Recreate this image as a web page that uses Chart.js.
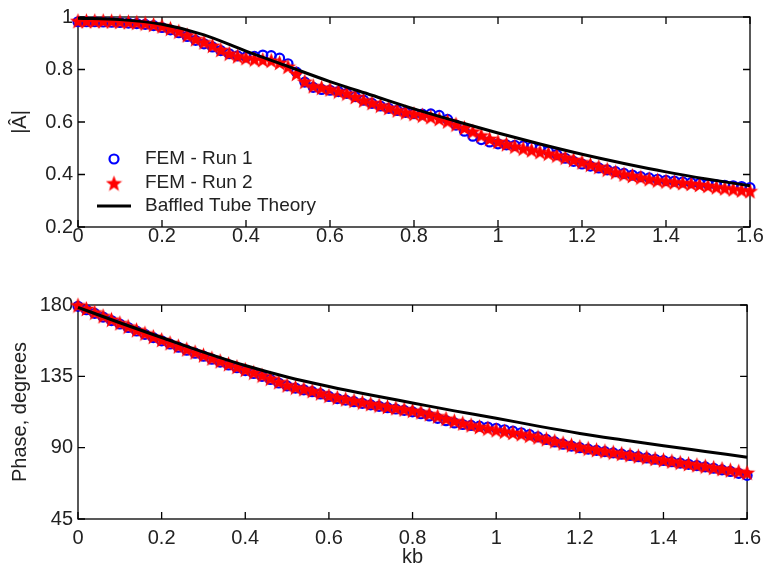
<!DOCTYPE html>
<html>
<head>
<meta charset="utf-8">
<script src="https://cdn.jsdelivr.net/npm/chart.js@4"></script>
<style>
  html, body { margin: 0; padding: 0; background: #fff; }
  #wrap { position: relative; width: 768px; height: 569px; }
  #ampChart { position: absolute; left: 0; top: 0; }
  #phaseChart { position: absolute; left: 0; top: 260px; }
</style>
</head>
<body>
<div id="wrap">
  <canvas id="ampChart" width="768" height="260"></canvas>
  <canvas id="phaseChart" width="768" height="309"></canvas>
</div>
<script>
// kb grid of the FEM runs
const kb = [
  0.00, 0.02, 0.04, 0.06, 0.08, 0.10, 0.12, 0.14, 0.16, 0.18,
  0.20, 0.22, 0.24, 0.26, 0.28, 0.30, 0.32, 0.34, 0.36, 0.38,
  0.40, 0.42, 0.44, 0.46, 0.48, 0.50, 0.52, 0.54, 0.56, 0.58,
  0.60, 0.62, 0.64, 0.66, 0.68, 0.70, 0.72, 0.74, 0.76, 0.78,
  0.80, 0.82, 0.84, 0.86, 0.88, 0.90, 0.92, 0.94, 0.96, 0.98,
  1.00, 1.02, 1.04, 1.06, 1.08, 1.10, 1.12, 1.14, 1.16, 1.18,
  1.20, 1.22, 1.24, 1.26, 1.28, 1.30, 1.32, 1.34, 1.36, 1.38,
  1.40, 1.42, 1.44, 1.46, 1.48, 1.50, 1.52, 1.54, 1.56, 1.58,
  1.60
];

// |A| - FEM run 1 (blue circles)
const ampRun1 = [
  0.982, 0.982, 0.982, 0.981, 0.980, 0.979, 0.977, 0.975, 0.972, 0.967,
  0.960, 0.951, 0.940, 0.926, 0.911, 0.898, 0.886, 0.872, 0.860, 0.852,
  0.848, 0.850, 0.855, 0.853, 0.843, 0.822, 0.790, 0.752, 0.732, 0.724,
  0.721, 0.716, 0.709, 0.697, 0.683, 0.671, 0.661, 0.652, 0.644, 0.637,
  0.632, 0.630, 0.631, 0.625, 0.610, 0.588, 0.565, 0.546, 0.533, 0.524,
  0.517, 0.513, 0.511, 0.509, 0.505, 0.498, 0.488, 0.476, 0.462, 0.450,
  0.440, 0.432, 0.425, 0.418, 0.411, 0.404, 0.398, 0.392, 0.387, 0.382,
  0.378, 0.375, 0.372, 0.369, 0.366, 0.363, 0.361, 0.359, 0.357, 0.354,
  0.350
];

// |A| - FEM run 2 (red stars)
const ampRun2 = [
  0.986, 0.986, 0.986, 0.986, 0.985, 0.984, 0.982, 0.980, 0.977, 0.972,
  0.966, 0.957, 0.946, 0.932, 0.917, 0.905, 0.892, 0.876, 0.862, 0.852,
  0.845, 0.840, 0.838, 0.835, 0.827, 0.812, 0.785, 0.755, 0.738, 0.732,
  0.726, 0.718, 0.710, 0.697, 0.684, 0.674, 0.664, 0.655, 0.646, 0.638,
  0.632, 0.626, 0.620, 0.613, 0.604, 0.592, 0.579, 0.565, 0.550, 0.537,
  0.526, 0.517, 0.508, 0.500, 0.494, 0.487, 0.481, 0.474, 0.466, 0.457,
  0.448, 0.439, 0.430, 0.420, 0.410, 0.402, 0.396, 0.390, 0.384, 0.379,
  0.375, 0.372, 0.369, 0.366, 0.362, 0.358, 0.353, 0.349, 0.345, 0.341,
  0.338
];

// Phase - FEM run 1
const phaseRun1 = [
  179.2, 177.0, 174.7, 172.4, 170.2, 168.0, 165.8, 163.6, 161.5, 159.4,
  157.4, 155.4, 153.4, 151.5, 149.6, 147.7, 145.8, 144.0, 142.2, 140.4,
  138.6, 136.8, 135.0, 133.0, 130.8, 129.0, 127.6, 126.5, 125.3, 123.9,
  122.3, 121.0, 120.0, 119.0, 118.0, 117.0, 116.1, 115.2, 114.4, 113.5,
  112.6, 111.4, 110.0, 108.5, 107.0, 105.6, 104.6, 104.0, 103.6, 103.0,
  102.2, 101.3, 100.4, 99.4, 98.2, 96.8, 95.2, 93.6, 92.2, 91.0,
  90.0, 89.1, 88.3, 87.5, 86.7, 85.9, 85.1, 84.3, 83.5, 82.7,
  81.9, 81.1, 80.3, 79.5, 78.7, 77.9, 77.0, 76.0, 75.0, 73.8,
  72.5
];

// Phase - FEM run 2
const phaseRun2 = [
  180.0, 177.8, 175.5, 173.2, 171.0, 168.8, 166.6, 164.4, 162.3, 160.2,
  158.2, 156.2, 154.2, 152.3, 150.4, 148.5, 146.6, 144.8, 143.0, 141.2,
  139.4, 137.6, 135.8, 133.8, 131.6, 129.6, 128.2, 127.2, 126.0, 124.6,
  123.0, 121.8, 120.8, 119.8, 118.8, 117.8, 116.9, 116.0, 115.2, 114.4,
  113.6, 112.6, 111.4, 110.0, 108.5, 107.0, 105.6, 104.4, 103.3, 102.3,
  101.3, 100.4, 99.6, 98.8, 97.8, 96.8, 95.6, 94.3, 93.0, 91.8,
  90.7, 89.7, 88.8, 88.0, 87.2, 86.4, 85.6, 84.8, 84.0, 83.2,
  82.4, 81.6, 80.8, 80.0, 79.2, 78.4, 77.6, 76.8, 76.0, 75.2,
  74.4
];

// Baffled tube theory curve
const theoryKb = [0.0, 0.1, 0.2, 0.3, 0.4, 0.5, 0.6, 0.7, 0.8, 0.9, 1.0, 1.1, 1.2, 1.3, 1.4, 1.5, 1.6];
const ampTheory = [0.995, 0.990, 0.972, 0.932, 0.870, 0.812, 0.754, 0.702, 0.650, 0.603, 0.558, 0.516, 0.477, 0.442, 0.410, 0.382, 0.357];
const phaseTheory = [178.5, 168.8, 159.5, 150.3, 141.8, 134.6, 128.6, 123.2, 118.2, 113.2, 108.6, 103.6, 99.0, 95.0, 91.2, 87.6, 84.0];

// Tick labels
const xTicks = [0, 0.2, 0.4, 0.6, 0.8, 1, 1.2, 1.4, 1.6];
const ampTicks = [0.2, 0.4, 0.6, 0.8, 1];
const phaseTicks = [45, 90, 135, 180];

const legendLabels = ['FEM - Run 1', 'FEM - Run 2', 'Baffled Tube Theory'];

const FONT = "'Liberation Sans', Arial, Helvetica, sans-serif";
const BLUE = 'rgb(0, 0, 255)';
const RED = 'rgb(255, 0, 0)';

// Filled five point star used as point style
function makeStar(size, color) {
    const c = document.createElement('canvas');
    c.width = size;
    c.height = size;
    const g = c.getContext('2d');
    const r = size / 2;
    const ri = r * 0.42;
    g.beginPath();
    for (let i = 0; i < 10; i++) {
        const a = -Math.PI / 2 + i * Math.PI / 5;
        const rr = i % 2 ? ri : r;
        const px = r + rr * Math.cos(a);
        const py = r + 1 + rr * Math.sin(a);
        if (i === 0) g.moveTo(px, py); else g.lineTo(px, py);
    }
    g.closePath();
    g.fillStyle = color;
    g.fill();
    return c;
}

const starImg = makeStar(17, RED);

function toPoints(xs, ys) {
    return xs.map((x, i) => ({ x: x, y: ys[i] }));
}

// Box round the plot with inward ticks on all four sides (matlab look)
const boxPlugin = {
    id: 'boxPlugin',
    beforeDatasetsDraw(chart) {
        const { ctx, chartArea: a, scales } = chart;
        const len = 7;
        ctx.save();
        ctx.strokeStyle = '#000';
        ctx.lineWidth = 1.3;
        ctx.strokeRect(a.left, a.top, a.right - a.left, a.bottom - a.top);
        ctx.beginPath();
        scales.x.ticks.forEach(t => {
            const px = scales.x.getPixelForValue(t.value);
            ctx.moveTo(px, a.bottom); ctx.lineTo(px, a.bottom - len);
            ctx.moveTo(px, a.top); ctx.lineTo(px, a.top + len);
        });
        scales.y.ticks.forEach(t => {
            const py = scales.y.getPixelForValue(t.value);
            ctx.moveTo(a.left, py); ctx.lineTo(a.left + len, py);
            ctx.moveTo(a.right, py); ctx.lineTo(a.right - len, py);
        });
        ctx.stroke();
        ctx.restore();
    }
};

// Legend drawn inside the top plot, lower left, no frame
const insideLegend = {
    id: 'insideLegend',
    afterDraw(chart) {
        if (!chart.options.plugins.insideLegend || !chart.options.plugins.insideLegend.show) return;
        const { ctx, chartArea: a } = chart;
        const mx = a.left + 36;
        const tx = a.left + 67;
        const rows = [a.bottom - 68, a.bottom - 44, a.bottom - 21];
        ctx.save();
        // circle
        ctx.strokeStyle = BLUE;
        ctx.lineWidth = 2.2;
        ctx.beginPath();
        ctx.arc(mx, rows[0], 4.5, 0, Math.PI * 2);
        ctx.stroke();
        // star
        ctx.drawImage(starImg, mx - starImg.width / 2, rows[1] - starImg.height / 2);
        // line
        ctx.strokeStyle = '#000';
        ctx.lineWidth = 3;
        ctx.beginPath();
        ctx.moveTo(mx - 17, rows[2]);
        ctx.lineTo(mx + 17, rows[2]);
        ctx.stroke();
        // texts
        ctx.fillStyle = '#222';
        ctx.font = '19px ' + FONT;
        ctx.textBaseline = 'middle';
        ctx.textAlign = 'left';
        legendLabels.forEach((label, i) => ctx.fillText(label, tx, rows[i]));
        ctx.restore();
    }
};

function buildChart(canvasId, cfg) {
    const ctx = document.getElementById(canvasId);
    return new Chart(ctx, {
        type: 'scatter',
        data: {
            datasets: [
                {
                    label: legendLabels[2],
                    data: toPoints(theoryKb, cfg.theory),
                    showLine: true,
                    borderColor: '#000',
                    borderWidth: 3,
                    pointRadius: 0,
                    cubicInterpolationMode: 'monotone',
                    order: 0,
                    clip: false
                },
                {
                    label: legendLabels[1],
                    data: toPoints(kb, cfg.run2),
                    showLine: false,
                    pointStyle: starImg,
                    pointRadius: 8,
                    order: 1,
                    clip: false
                },
                {
                    label: legendLabels[0],
                    data: toPoints(kb, cfg.run1),
                    showLine: false,
                    pointStyle: 'circle',
                    pointRadius: 4.5,
                    pointBorderWidth: 2.2,
                    borderColor: BLUE,
                    backgroundColor: 'rgba(0,0,0,0)',
                    order: 2,
                    clip: false
                }
            ]
        },
        options: {
            responsive: false,
            animation: false,
            events: [],
            layout: { padding: { top: cfg.padTop, right: 18, left: 0, bottom: 0 } },
            plugins: {
                legend: { display: false },
                tooltip: { enabled: false },
                insideLegend: { show: cfg.legend }
            },
            scales: {
                x: {
                    type: 'linear',
                    min: 0,
                    max: 1.6,
                    afterBuildTicks: s => { s.ticks = xTicks.map(v => ({ value: v })); },
                    afterFit: s => { s.height = cfg.xHeight; },
                    grid: { display: false, drawTicks: false },
                    border: { display: false },
                    ticks: {
                        color: '#222',
                        font: { family: FONT, size: 20 },
                        padding: cfg.xPad,
                        maxRotation: 0,
                        autoSkip: false,
                        callback: v => String(v)
                    },
                    title: {
                        display: cfg.xTitle,
                        text: 'kb',
                        color: '#222',
                        font: { family: FONT, size: 20 },
                        padding: { top: 0, bottom: 0 }
                    }
                },
                y: {
                    type: 'linear',
                    min: cfg.yMin,
                    max: cfg.yMax,
                    afterBuildTicks: s => { s.ticks = cfg.yTicks.map(v => ({ value: v })); },
                    afterFit: s => { s.width = 78; },
                    grid: { display: false, drawTicks: false },
                    border: { display: false },
                    ticks: {
                        color: '#222',
                        font: { family: FONT, size: 20 },
                        padding: 5,
                        autoSkip: false,
                        callback: v => String(v)
                    },
                    title: {
                        display: true,
                        text: cfg.yTitle,
                        color: '#222',
                        font: { family: FONT, size: 20 },
                        padding: { top: 8, bottom: 0 }
                    }
                }
            }
        },
        plugins: [boxPlugin, insideLegend]
    });
}

// Top plot: magnitude
buildChart('ampChart', {
    theory: ampTheory, run1: ampRun1, run2: ampRun2,
    yMin: 0.2, yMax: 1, yTicks: ampTicks, yTitle: '|Â|',
    padTop: 13, xHeight: 33, xPad: -3, xTitle: false, legend: true
});

// Bottom plot: phase
buildChart('phaseChart', {
    theory: phaseTheory, run1: phaseRun1, run2: phaseRun2,
    yMin: 45, yMax: 180, yTicks: phaseTicks, yTitle: 'Phase, degrees',
    padTop: 45, xHeight: 50, xPad: 7, xTitle: true, legend: false
});
</script>
</body>
</html>
